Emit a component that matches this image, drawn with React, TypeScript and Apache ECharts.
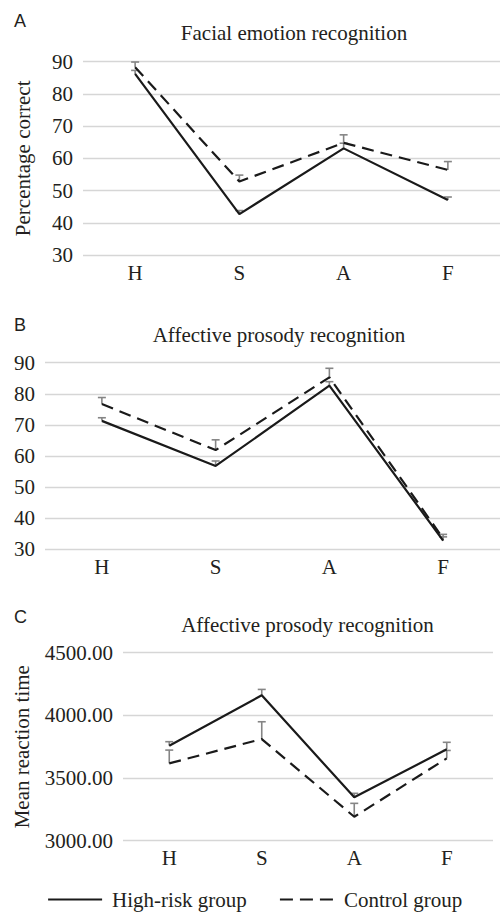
import React, { useEffect, useRef } from "react";
import * as echarts from "echarts";

const categories = ["H", "S", "A", "F"];

// Panel A: Facial emotion recognition (percentage correct)
const aHigh = [86.2, 42.7, 63.1, 47.1];
const aHighTop = [87.3, 43.8, 64.7, 48.0];
const aControl = [88.3, 52.8, 64.8, 56.4];
const aControlTop = [89.9, 54.8, 67.3, 59.0];

// Panel B: Affective prosody recognition (percentage correct)
const bHigh = [71.3, 56.8, 82.6, 32.8];
const bHighTop = [72.3, 58.4, 83.9, 34.0];
const bControl = [76.7, 61.9, 85.3, 33.5];
const bControlTop = [78.8, 65.2, 88.2, 34.8];

// Panel C: Affective prosody recognition (mean reaction time)
const cHigh = [3758, 4160, 3346, 3729];
const cHighTop = [3790, 4207, 3378, 3785];
const cControl = [3617, 3811, 3191, 3657];
const cControlTop = [3723, 3949, 3298, 3720];

const seriesNames = ["High-risk group", "Control group"];
const titles = ["Facial emotion recognition", "Affective prosody recognition", "Affective prosody recognition"];
const panelLetters = ["A", "B", "C"];
const yNames = ["Percentage correct", "", "Mean reaction time"];

const SERIF = "'Liberation Serif', 'Times New Roman', serif";
const SANS = "'Liberation Sans', Arial, sans-serif";
const TXT = "#231f20";
const DASH = [12, 7];

export default function App() {
  const ref = useRef<HTMLDivElement>(null);
  useEffect(() => {
    if (!ref.current) return;
    const chart = echarts.init(ref.current, null, { renderer: "svg" });

    const grids = [
      { left: 83, right: 0, top: 61.7, height: 193.3 },
      { left: 45, right: -11.7, top: 362.7, height: 186.6 },
      { left: 123, right: 7, top: 652.7, height: 188 },
    ];
    const yRanges = [
      { min: 30, max: 90, interval: 10, fmt: (v: number) => String(v) },
      { min: 30, max: 90, interval: 10, fmt: (v: number) => String(v) },
      { min: 3000, max: 4500, interval: 500, fmt: (v: number) => v.toFixed(2) },
    ];
    const nameGaps = [50, 50, 91];

    const panels = [
      { high: aHigh, highTop: aHighTop, control: aControl, controlTop: aControlTop },
      { high: bHigh, highTop: bHighTop, control: bControl, controlTop: bControlTop },
      { high: cHigh, highTop: cHighTop, control: cControl, controlTop: cControlTop },
    ];

    const errRender = (params: any, api: any) => {
      const x = api.value(0);
      const p0 = api.coord([x, api.value(1)]);
      const p1 = api.coord([x, api.value(2)]);
      const st = { stroke: "#858585", lineWidth: 1.6, fill: "none" };
      return {
        type: "group",
        children: [
          { type: "line", shape: { x1: p0[0], y1: p0[1], x2: p1[0], y2: p1[1] }, style: st },
          { type: "line", shape: { x1: p1[0] - 4, y1: p1[1], x2: p1[0] + 4, y2: p1[1] }, style: st },
        ],
      };
    };

    const series: any[] = [];
    panels.forEach((p, i) => {
      series.push({
        type: "custom",
        xAxisIndex: i,
        yAxisIndex: i,
        renderItem: errRender,
        encode: { x: 0, y: [1, 2] },
        data: p.high.map((v, k) => [k, v, p.highTop[k]]),
        z: 1,
        silent: true,
      });
      series.push({
        type: "custom",
        xAxisIndex: i,
        yAxisIndex: i,
        renderItem: errRender,
        encode: { x: 0, y: [1, 2] },
        data: p.control.map((v, k) => [k, v, p.controlTop[k]]),
        z: 1,
        silent: true,
      });
      series.push({
        name: seriesNames[0],
        type: "line",
        xAxisIndex: i,
        yAxisIndex: i,
        data: p.high,
        symbol: "none",
        lineStyle: { color: "#1a1a1a", width: 2.2, type: "solid" },
        itemStyle: { color: "#1a1a1a" },
        z: 3,
      });
      series.push({
        name: seriesNames[1],
        type: "line",
        xAxisIndex: i,
        yAxisIndex: i,
        data: p.control,
        symbol: "none",
        lineStyle: { color: "#1a1a1a", width: 2.2, type: DASH },
        itemStyle: { color: "#1a1a1a" },
        z: 3,
      });
    });

    const option: any = {
      animation: false,
      backgroundColor: "#ffffff",
      grid: grids,
      xAxis: grids.map((_, i) => ({
        type: "category",
        gridIndex: i,
        data: categories,
        boundaryGap: true,
        axisLine: { show: false },
        axisTick: { show: false },
        axisLabel: { color: TXT, fontFamily: SERIF, fontSize: 21, margin: 7 },
        splitLine: { show: false },
      })),
      yAxis: grids.map((_, i) => ({
        type: "value",
        gridIndex: i,
        min: yRanges[i].min,
        max: yRanges[i].max,
        interval: yRanges[i].interval,
        name: yNames[i],
        nameLocation: "middle",
        nameGap: nameGaps[i],
        nameTextStyle: { color: TXT, fontFamily: SERIF, fontSize: 21 },
        axisLine: { show: false },
        axisTick: { show: false },
        axisLabel: { color: TXT, fontFamily: SERIF, fontSize: 21, margin: 10, formatter: yRanges[i].fmt },
        splitLine: { show: true, lineStyle: { color: "#d6d6d6", width: 1.3 } },
      })),
      legend: {
        data: [
          { name: seriesNames[0], lineStyle: { type: "solid", width: 2.2, color: "#1a1a1a" } },
          { name: seriesNames[1], lineStyle: { type: [13, 7], width: 2.2, color: "#1a1a1a" } },
        ],
        left: 47,
        top: 889,
        padding: 0,
        itemWidth: 54,
        itemHeight: 14,
        itemGap: 32,
        itemStyle: { opacity: 0 },
        textStyle: { color: TXT, fontFamily: SERIF, fontSize: 21, padding: [0, 0, 0, 5] },
      },
      graphic: [
        ...titles.map((t, i) => ({
          type: "text",
          x: [294, 279, 307.5][i],
          y: [33, 335, 625][i],
          style: { text: t, font: `21px ${SERIF}`, fill: TXT, textAlign: "center", textVerticalAlign: "middle" },
        })),
        ...panelLetters.map((t, i) => ({
          type: "text",
          x: 14,
          y: [21, 325, 616.5][i],
          style: { text: t, font: `18px ${SANS}`, fill: TXT, textAlign: "left", textVerticalAlign: "middle" },
        })),
      ],
      series,
    };
    chart.setOption(option);
    return () => chart.dispose();
  }, []);
  return (
    <div
      ref={ref}
      style={{ position: "fixed", left: 0, top: 0, width: 500, height: 914, background: "#fff" }}
    />
  );
}
